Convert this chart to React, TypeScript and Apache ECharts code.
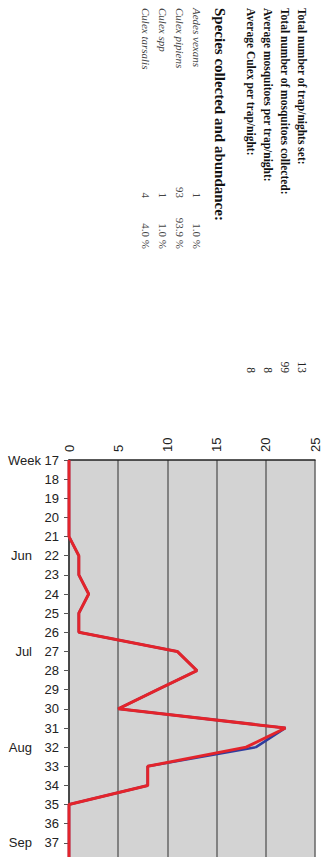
import React, { useEffect, useRef } from "react";
import * as echarts from "echarts";

// ---- data ----
const weeks = ["17","18","19","20","21","22","23","24","25","26","27","28","29","30","31","32","33","34","35","36","37","38"];
const monthAtWeek: Record<string, string> = { "22": "Jun", "27": "Jul", "32": "Aug", "37": "Sep" };
const mosquitoesPerTrap = [0,0,0,0,0,1,1,2,1,1,11,13,9,5,22,19,8,8,0,0,0,0];
const culexPerTrap      = [0,0,0,0,0,1,1,2,1,1,11,13,9,5,22,18,8,8,0,0,0,0];
const valueTicks = [0, 5, 10, 15, 20, 25];

const statLabels = [
  "Total number of trap/nights set:",
  "Total number of mosquitoes collected:",
  "Average mosquitoes per trap/night:",
  "Average Culex per trap/night:",
];
const statValues = ["13", "99", "8", "8"];
const speciesHeading = "Species collected and abundance:";
const speciesNames = ["Aedes vexans", "Culex pipiens", "Culex spp", "Culex tarsalis"];
const speciesCounts = ["1", "93", "1", "4"];
const speciesPercents = ["1.0 %", "93.9 %", "1.0 %", "4.0 %"];

const SERIF = "'Liberation Serif', 'Times New Roman', serif";
const SANS = "'Liberation Sans', Arial, sans-serif";
const ROT = -Math.PI / 2;

export default function App() {
  const ref = useRef<HTMLDivElement>(null);

  useEffect(() => {
    if (!ref.current) return;
    const chart = echarts.init(ref.current, null, { renderer: "svg" });

    const statX = [302, 285, 268, 251];
    const speciesX = [197, 180, 163, 146];
    const graphics: any[] = [];
    statLabels.forEach((t, i) => {
      graphics.push({
        type: "text", x: statX[i], y: 8, rotation: ROT,
        style: { text: t, align: "left", verticalAlign: "middle", font: `bold 11.5px ${SERIF}`, fill: "#111" },
      });
      graphics.push({
        type: "text", x: statX[i], y: 373, rotation: ROT,
        style: { text: statValues[i], align: "right", verticalAlign: "middle", font: `11.5px ${SERIF}`, fill: "#222" },
      });
    });
    graphics.push({
      type: "text", x: 220, y: 8, rotation: ROT,
      style: { text: speciesHeading, align: "left", verticalAlign: "middle", font: `bold 15px ${SERIF}`, fill: "#111" },
    });
    speciesNames.forEach((t, i) => {
      graphics.push({
        type: "text", x: speciesX[i], y: 8, rotation: ROT,
        style: { text: t, align: "left", verticalAlign: "middle", font: `italic 11px ${SERIF}`, fill: "#444" },
      });
      graphics.push({
        type: "text", x: speciesX[i], y: 198, rotation: ROT,
        style: { text: speciesCounts[i], align: "right", verticalAlign: "middle", font: `11px ${SERIF}`, fill: "#444" },
      });
      graphics.push({
        type: "text", x: speciesX[i], y: 249, rotation: ROT,
        style: { text: speciesPercents[i], align: "right", verticalAlign: "middle", font: `11px ${SERIF}`, fill: "#444" },
      });
    });

    chart.setOption({
      animation: false,
      backgroundColor: "#ffffff",
      graphic: graphics,
      grid: {
        left: 69, right: 11, top: 460, bottom: 38,
        show: true, backgroundColor: "#d3d3d3", borderWidth: 0,
      },
      xAxis: {
        type: "value",
        position: "top",
        min: valueTicks[0],
        max: valueTicks[valueTicks.length - 1],
        interval: valueTicks[1] - valueTicks[0],
        axisLine: { show: true, lineStyle: { color: "#222", width: 1.5 } },
        axisTick: { show: false },
        splitLine: { show: true, lineStyle: { color: "#666", width: 1.5 } },
        axisLabel: { rotate: -90, margin: 8, fontSize: 13, color: "#222", fontFamily: SANS },
      },
      yAxis: {
        type: "category",
        data: weeks,
        inverse: true,
        boundaryGap: false,
        axisLine: { show: true, lineStyle: { color: "#333", width: 1.5 } },
        axisTick: { show: true, length: 5, lineStyle: { color: "#555", width: 1 } },
        splitLine: { show: false },
        axisLabel: {
          margin: 10,
          fontSize: 13,
          color: "#222",
          fontFamily: SANS,
          interval: 0,
          formatter: (v: string) =>
            v === weeks[0] ? `Week ${v}` : monthAtWeek[v] ? `{m|${monthAtWeek[v]}}{n|${v}}` : v,
          rich: {
            m: { fontSize: 13, color: "#222", fontFamily: SANS },
            n: { fontSize: 13, color: "#222", fontFamily: SANS, width: 27, align: "right" },
          },
        },
      },
      series: [
        {
          type: "line", name: "Mosquitoes", data: mosquitoesPerTrap, symbol: "none",
          lineStyle: { color: "#2f3d9e", width: 2.5 }, z: 2,
        },
        {
          type: "line", name: "Culex", data: culexPerTrap, symbol: "none",
          lineStyle: { color: "#e3242b", width: 3 }, z: 3,
        },
      ],
    });

    return () => chart.dispose();
  }, []);

  return (
    <div style={{ position: "fixed", left: 0, top: 0, width: 326, height: 857, overflow: "hidden", background: "#fff" }}>
      <div ref={ref} style={{ width: 326, height: 900 }} />
    </div>
  );
}
